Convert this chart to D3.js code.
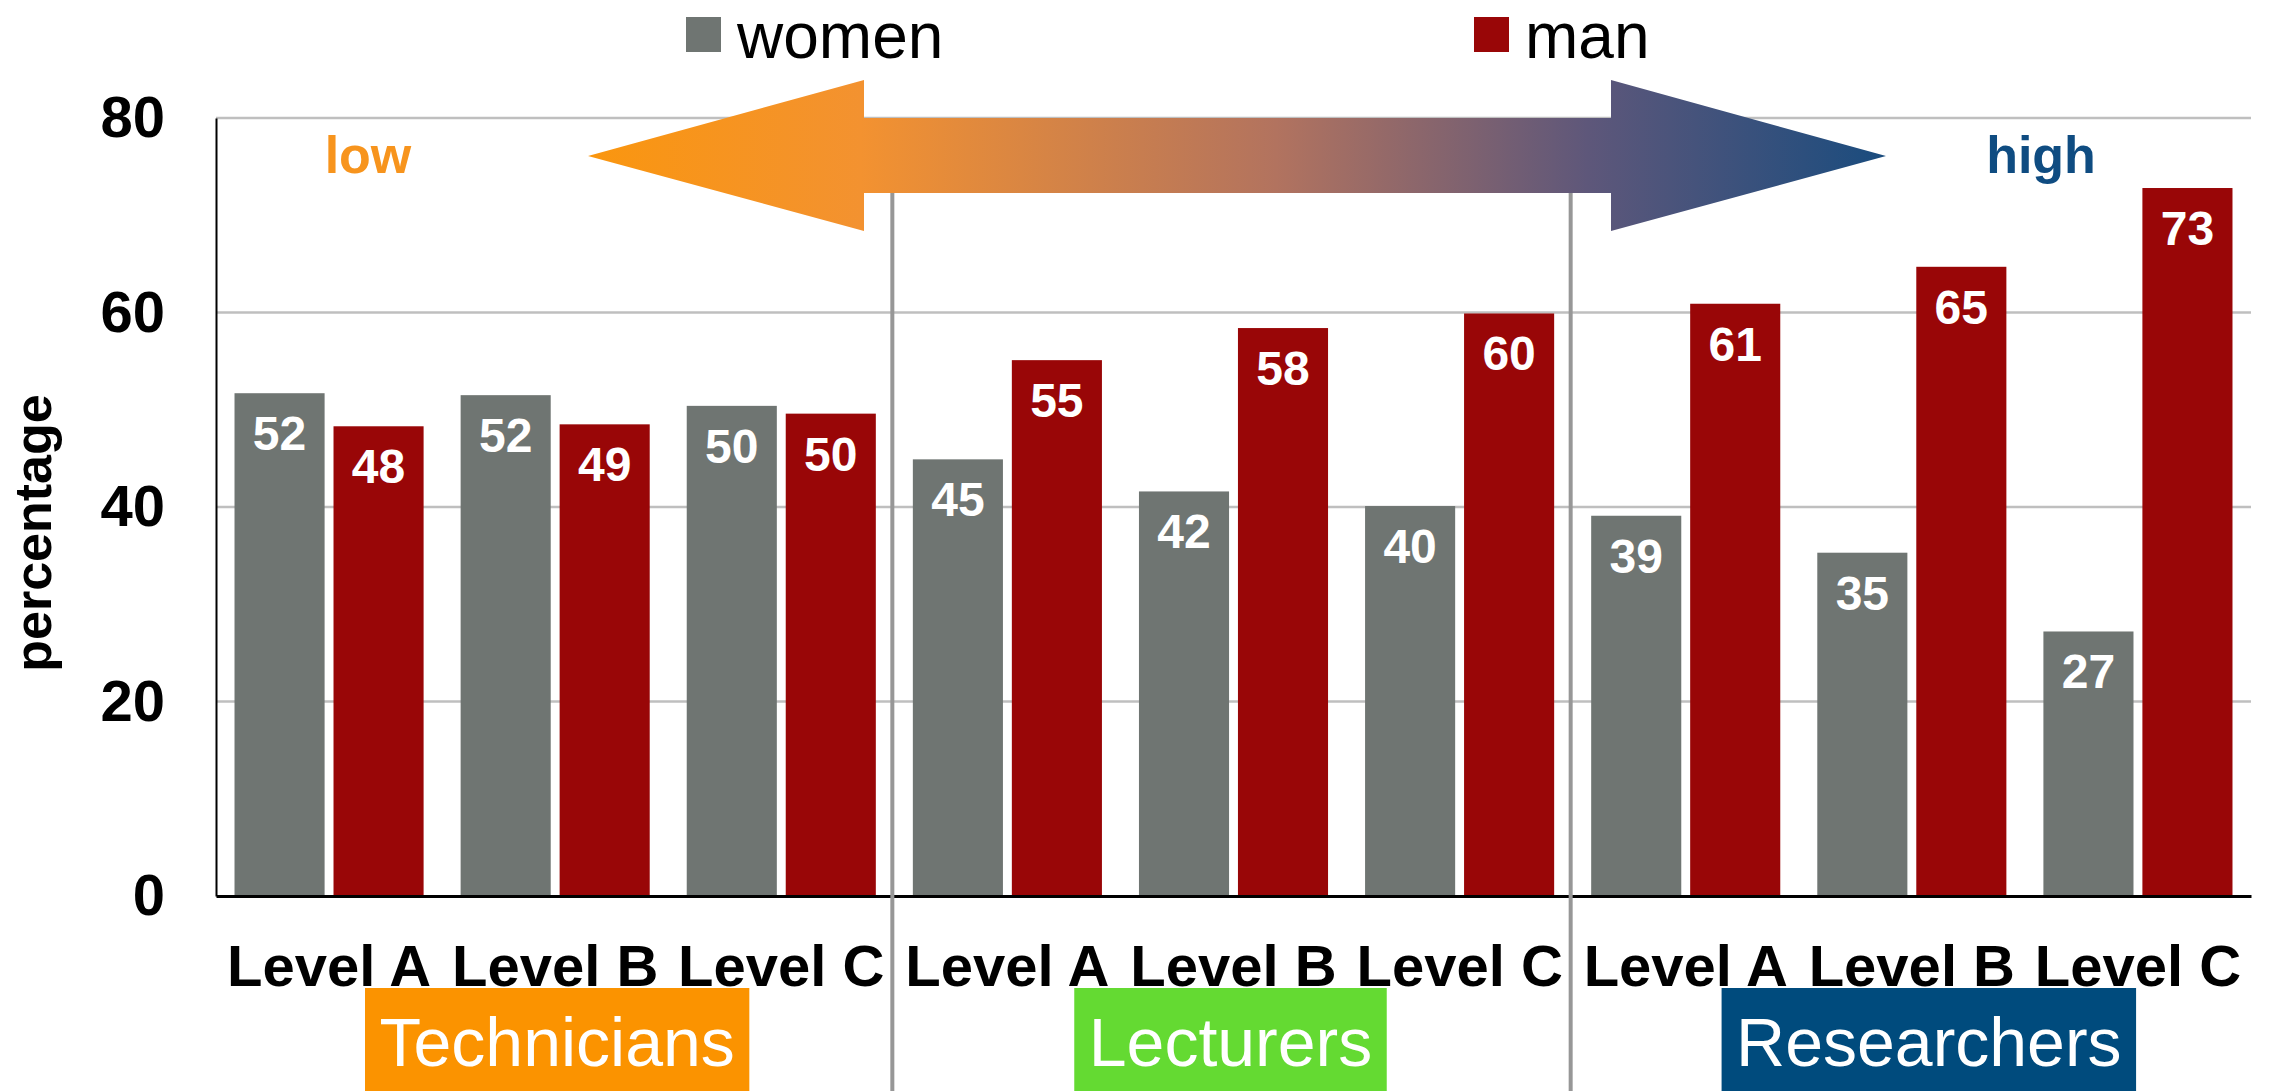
<!DOCTYPE html>
<html>
<head>
<meta charset="utf-8">
<script src="https://cdn.jsdelivr.net/npm/d3@7"></script>
<style>
  body { margin: 0; background: #fff; }
  svg { display: block; font-family: "Liberation Sans", Arial, sans-serif; }
</style>
</head>
<body>
<div id="chart"></div>
<script>
// data
var levels = ['Level A', 'Level B', 'Level C', 'Level A', 'Level B', 'Level C', 'Level A', 'Level B', 'Level C'];
var women = [51.7, 51.5, 50.4, 44.9, 41.6, 40.1, 39.1, 35.3, 27.2];
var men = [48.3, 48.5, 49.6, 55.1, 58.4, 59.9, 60.9, 64.7, 72.8];
var groups = ['Technicians', 'Lecturers', 'Researchers'];
var series = ['women', 'man'];
var yTicks = [0, 20, 40, 60, 80];

var seriesColors = ['#6f7572', '#990607'];
var groupColors = ['#fb9300', '#64da32', '#004b7d'];

var width = 2269, height = 1091;
var margin = {top: 118, right: 18, bottom: 195, left: 216};
var dwidth = width - margin.left - margin.right,
    dheight = height - margin.top - margin.bottom;

var svg = d3.select("#chart")
    .append("svg")
    .attr("width", width)
    .attr("height", height);

var plot = svg.append("g")
    .attr("transform", "translate(" + margin.left + "," + margin.top + ")");

var x0 = d3.scaleBand()
    .domain(d3.range(levels.length))
    .range([0, dwidth]);

var x1 = d3.scaleBand()
    .domain(series)
    .range([0, x0.bandwidth()])
    .paddingInner(0.09)
    .paddingOuter(0.187);

var y = d3.scaleLinear()
    .domain([0, 80])
    .range([dheight, 0]);

var color = d3.scaleOrdinal().domain(series).range(seriesColors);

// gridlines
plot.append("g")
    .selectAll("line")
    .data(yTicks.filter(function(d) { return d > 0; }))
    .enter()
    .append("line")
    .attr("x1", 0)
    .attr("x2", dwidth)
    .attr("y1", function(d) { return y(d); })
    .attr("y2", function(d) { return y(d); })
    .style("stroke", "#bfbfbf")
    .style("stroke-width", 2.5);

// bars
var rows = levels.map(function(l, i) { return {i: i, women: women[i], man: men[i]}; });

var bar = plot.append("g")
    .selectAll("g")
    .data(rows)
    .enter()
    .append("g")
    .attr("transform", function(d) { return "translate(" + x0(d.i) + ",0)"; });

bar.selectAll("rect")
    .data(function(d) { return series.map(function(k) { return {key: k, value: d[k]}; }); })
    .enter()
    .append("rect")
    .attr("x", function(d) { return x1(d.key); })
    .attr("y", function(d) { return y(d.value); })
    .attr("width", x1.bandwidth())
    .attr("height", function(d) { return dheight - y(d.value); })
    .style("fill", function(d) { return color(d.key); });

bar.selectAll("text")
    .data(function(d) { return series.map(function(k) { return {key: k, value: d[k]}; }); })
    .enter()
    .append("text")
    .attr("x", function(d) { return x1(d.key) + x1.bandwidth() / 2; })
    .attr("y", function(d) { return y(d.value) + 57; })
    .attr("text-anchor", "middle")
    .style("font-size", "48px")
    .style("font-weight", "bold")
    .style("fill", "#fff")
    .text(function(d) { return Math.round(d.value); });

// axes
var yAxis = plot.append("g")
    .call(d3.axisLeft(y).tickValues(yTicks).tickSize(0).tickSizeOuter(0).tickPadding(51));
yAxis.select(".domain").style("stroke", "#000").style("stroke-width", 2);
yAxis.selectAll("text")
    .style("font-size", "58px")
    .style("font-weight", "bold")
    .style("font-family", "'Liberation Sans', Arial, sans-serif")
    .style("fill", "#000");

var xAxis = plot.append("g")
    .attr("transform", "translate(0," + dheight + ")")
    .call(d3.axisBottom(x0).tickSize(0).tickSizeOuter(0).tickPadding(49)
        .tickFormat(function(d) { return levels[d]; }));
xAxis.select(".domain").style("stroke", "#000").style("stroke-width", 3);
xAxis.selectAll("text")
    .style("font-size", "58px")
    .style("font-weight", "bold")
    .style("font-family", "'Liberation Sans', Arial, sans-serif")
    .style("fill", "#000");

// group dividers
plot.append("g")
    .selectAll("line")
    .data([3, 6])
    .enter()
    .append("line")
    .attr("x1", function(d) { return x0(d) - 2; })
    .attr("x2", function(d) { return x0(d) - 2; })
    .attr("y1", 0)
    .attr("y2", height - margin.top)
    .style("stroke", "#979797")
    .style("stroke-width", 4);

// y title
svg.append("text")
    .attr("transform", "translate(51,533) rotate(-90)")
    .attr("text-anchor", "middle")
    .style("font-size", "52px")
    .style("font-weight", "bold")
    .text("percentage");

// group boxes
var boxShift = [2, -3, 17];
groups.forEach(function(g, i) {
    var cx = margin.left + x0(i * 3 + 1) + x0.bandwidth() / 2 + boxShift[i];
    var box = svg.append("rect").style("fill", groupColors[i]);
    var t = svg.append("text")
        .attr("x", cx)
        .attr("y", 1066)
        .attr("text-anchor", "middle")
        .style("font-size", "68px")
        .style("fill", "#fff")
        .text(g);
    var w = t.node().getComputedTextLength() + 29;
    box.attr("x", cx - w / 2).attr("y", 988).attr("width", w).attr("height", height - 988);
});

// low -> high arrow
var grad = svg.append("defs").append("linearGradient")
    .attr("id", "arrowGrad")
    .attr("gradientUnits", "userSpaceOnUse")
    .attr("x1", 588).attr("x2", 1886).attr("y1", 0).attr("y2", 0);
[[0, '#fa960f'], [0.21, '#f39230'], [0.53, '#b2735f'], [0.77, '#5e577a'], [1, '#1a4c7e']]
    .forEach(function(s) {
        grad.append("stop").attr("offset", s[0]).attr("stop-color", s[1]);
    });

var arrowPts = [[588, 156], [864, 80], [864, 118], [1611, 118], [1611, 80], [1886, 156],
                [1611, 231], [1611, 193], [864, 193], [864, 231]];
svg.append("path")
    .attr("d", d3.line()(arrowPts) + "Z")
    .style("fill", "url(#arrowGrad)");

svg.append("text")
    .attr("x", 368).attr("y", 173)
    .attr("text-anchor", "middle")
    .style("font-size", "52px").style("font-weight", "bold")
    .style("fill", "#f7941d")
    .text("low");

svg.append("text")
    .attr("x", 2041).attr("y", 173)
    .attr("text-anchor", "middle")
    .style("font-size", "52px").style("font-weight", "bold")
    .style("fill", "#0f4c81")
    .text("high");

// legend
var legendX = [686, 1474];
series.forEach(function(k, i) {
    svg.append("rect")
        .attr("x", legendX[i]).attr("y", 17)
        .attr("width", 35).attr("height", 35)
        .style("fill", color(k));
    svg.append("text")
        .attr("x", legendX[i] + 51).attr("y", 58)
        .style("font-size", "64px")
        .style("fill", "#000")
        .text(k);
});
</script>
</body>
</html>
